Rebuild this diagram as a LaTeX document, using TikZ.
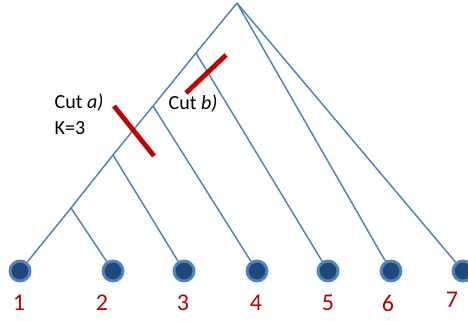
\documentclass[tikz,border=0pt]{standalone}
\usepackage{fontspec}
\setmainfont{Carlito}
\definecolor{linkblue}{RGB}{79,129,189}
\definecolor{ringblue}{RGB}{84,130,190}
\definecolor{leafblue}{RGB}{31,73,125}
\definecolor{cutred}{RGB}{192,0,0}
\begin{document}
\begin{tikzpicture}[x=0.75pt, y=-0.75pt,
  leaf/.style={circle, fill=leafblue, draw=ringblue, line width=2.2pt, minimum size=15pt, inner sep=0pt},
  link/.style={draw=linkblue, line width=1.1pt},
  cut/.style={draw=cutred, line width=3.6pt},
  num/.style={text=cutred, font=\fontsize{18}{22}\selectfont},
  cutlabel/.style={align=left, font=\fontsize{15}{19.5}\selectfont}]
\useasboundingbox (0,0) rectangle (468,321);
\coordinate (root) at (237,3);
\coordinate (j1) at (196,53);
\coordinate (j2) at (153,106);
\coordinate (j3) at (113,155);
\coordinate (j4) at (71,208);
\node[leaf] (l1) at (20,271) {};
\node[leaf] (l2) at (113,271) {};
\node[leaf] (l3) at (184,271) {};
\node[leaf] (l4) at (257,271) {};
\node[leaf] (l5) at (328,271) {};
\node[leaf] (l6) at (391,271) {};
\node[leaf] (l7) at (463,271) {};
\node[num] (n1) at (19,303) {1};
\node[num] (n2) at (102,303) {2};
\node[num] (n3) at (183,303) {3};
\node[num] (n4) at (256,303) {4};
\node[num] (n5) at (328,303) {5};
\node[num] (n6) at (388,303) {6};
\node[num] (n7) at (452,300) {7};
\draw[link] (root) -- (j1) -- (j2) -- (j3) -- (j4) -- (l1);
\draw[link] (j4) -- (l2);
\draw[link] (j3) -- (l3);
\draw[link] (j2) -- (l4);
\draw[link] (j1) -- (l5);
\draw[link] (root) -- (l6);
\draw[link] (root) -- (l7);
\draw[cut] (114,106) -- (154,156);
\draw[cut] (186,93) -- (226,55);
\node[cutlabel, anchor=west] (cuta) at (50,114) {Cut \textit{a)}\\K=3};
\node[cutlabel] (cutb) at (193,104) {Cut \textit{b)}};
\end{tikzpicture}
\end{document}
